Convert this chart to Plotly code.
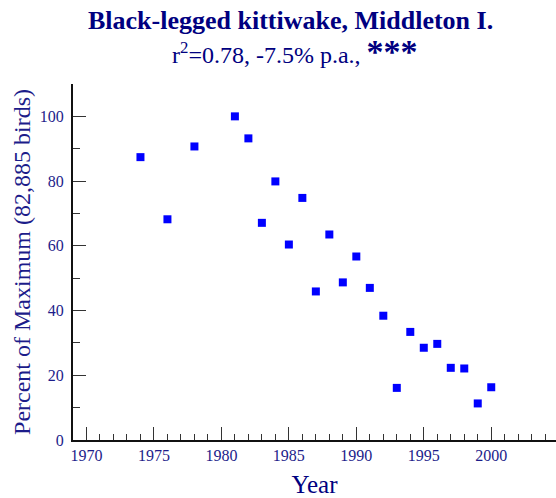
import plotly.graph_objects as go

years = [1974, 1976, 1978, 1981, 1982, 1983, 1984, 1985, 1986, 1987, 1988, 1989,
         1990, 1991, 1992, 1993, 1994, 1995, 1996, 1997, 1998, 1999, 2000]
pct = [87.4, 68.2, 90.7, 100.0, 93.2, 67.1, 79.9, 60.4, 74.8, 45.9, 63.5, 48.7,
       56.7, 47.0, 38.4, 16.1, 33.4, 28.5, 29.7, 22.3, 22.1, 11.3, 16.3]

W, H = 556, 498
L, R, T, B = 73, 0, 84, 58
NAVY = "#000080"
TXT = "#1c1c8a"
FONT = "Liberation Serif, Times New Roman, serif"

fig = go.Figure(go.Scatter(
    x=years, y=pct, mode="markers",
    marker=dict(symbol="square", size=8, color="#0000ff", line=dict(width=0)),
))

def px2paper_x(px):
    return (px - L) / (W - L - R)

def px2paper_y(py):
    return (H - B - py) / (H - T - B)

fig.add_annotation(text="<b>Black-legged kittiwake, Middleton I.</b>",
                   x=px2paper_x(290), y=px2paper_y(20), xref="paper", yref="paper",
                   showarrow=False, font=dict(family=FONT, size=26, color=NAVY),
                   xanchor="center", yanchor="middle")
fig.add_annotation(text="r<sup>2</sup>=0.78, -7.5% p.a., <span style='font-size:34px'><b>***</b></span>",
                   x=px2paper_x(170), y=px2paper_y(72), xref="paper", yref="paper",
                   showarrow=False, font=dict(family=FONT, size=24, color=NAVY),
                   xanchor="left", yanchor="bottom")

fig.update_layout(
    width=W, height=H,
    margin=dict(l=L, r=R, t=T, b=B, pad=0, autoexpand=False),
    paper_bgcolor="white", plot_bgcolor="white",
    showlegend=False,
    font=dict(family=FONT, color=TXT),
    xaxis=dict(
        range=[1969, 2004.8], tick0=1970, dtick=5, ticks="inside", ticklen=13,
        tickwidth=1, tickcolor="#333", showline=True, linecolor="#111", linewidth=2,
        showgrid=False, zeroline=False, automargin=False,
        tickfont=dict(size=16, family=FONT, color=TXT),
        minor=dict(dtick=1, tick0=1970, ticks="inside", ticklen=6, tickcolor="#333", showgrid=False),
        title=dict(text="Year", font=dict(size=25, family=FONT, color=NAVY), standoff=12),
    ),
    yaxis=dict(
        range=[0, 110], tick0=0, dtick=20, ticks="inside", ticklen=13,
        tickwidth=1, tickcolor="#333", showline=True, linecolor="#111", linewidth=2,
        showgrid=False, zeroline=False, automargin=False, ticklabelstandoff=4,
        tickfont=dict(size=16, family=FONT, color=TXT),
        minor=dict(dtick=10, ticks="inside", ticklen=7, tickcolor="#333", showgrid=False),
        title=dict(text="Percent of Maximum (82,885 birds)", font=dict(size=24, family=FONT, color=TXT), standoff=2),
    ),
)

fig.write_html("out.html", config={"displayModeBar": False},
               post_script="document.body.style.margin='0';document.body.style.overflow='hidden';")
